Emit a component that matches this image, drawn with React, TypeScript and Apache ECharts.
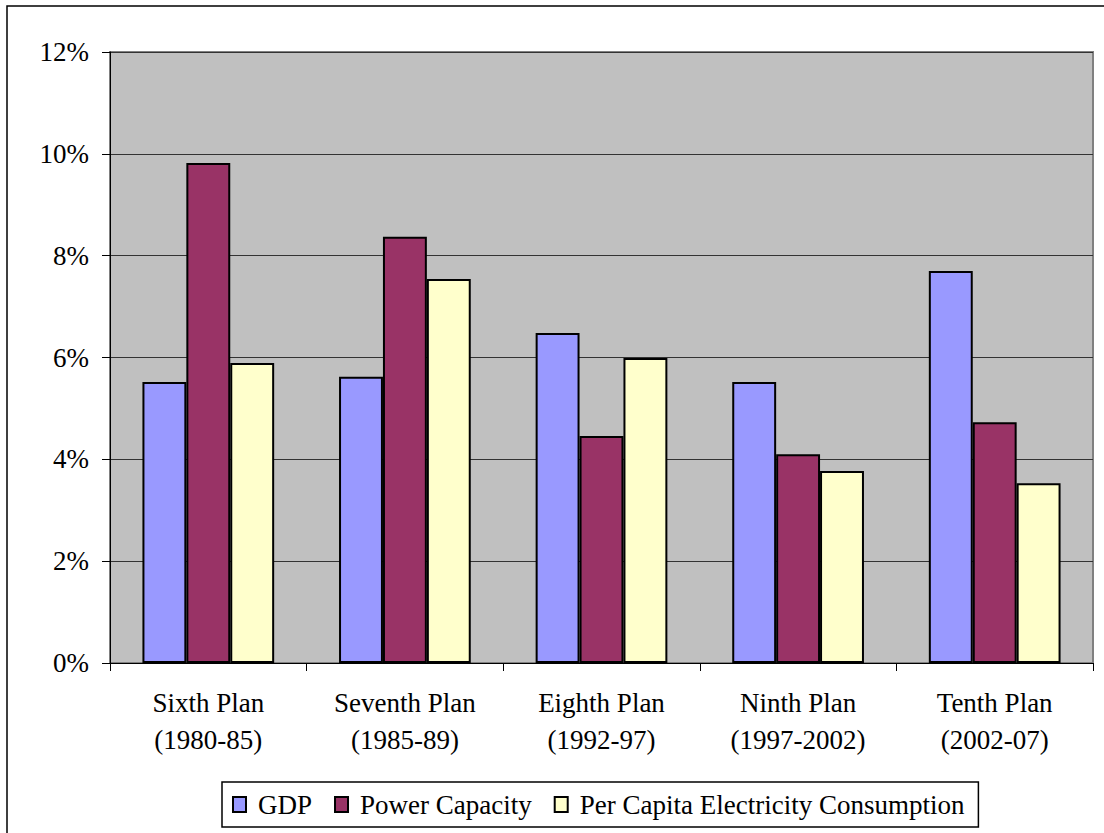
import React, { useEffect, useRef } from "react";
import * as echarts from "echarts";

const categories = [
  "Sixth Plan\n(1980-85)",
  "Seventh Plan\n(1985-89)",
  "Eighth Plan\n(1992-97)",
  "Ninth Plan\n(1997-2002)",
  "Tenth Plan\n(2002-07)",
];
const gdp = [5.52, 5.62, 6.48, 5.52, 7.7];
const powerCapacity = [9.82, 8.37, 4.46, 4.1, 4.73];
const perCapita = [5.89, 7.54, 5.99, 3.77, 3.53];
const seriesNames = ["GDP", "Power Capacity", "Per Capita Electricity Consumption"];
const colors = ["#9999FF", "#993366", "#FFFFCC"];

const FONT = "'Liberation Serif', 'DejaVu Serif', serif";

export default function App() {
  const ref = useRef<HTMLDivElement>(null);
  useEffect(() => {
    if (!ref.current) return;
    const chart = echarts.init(ref.current, null, { renderer: "svg" });
    const data = [gdp, powerCapacity, perCapita];
    chart.setOption({
      animation: false,
      backgroundColor: "#ffffff",
      textStyle: { fontFamily: FONT },
      graphic: [
        {
          type: "rect",
          shape: { x: 7, y: 6, width: 1120, height: 860 },
          style: { fill: "none", stroke: "#000", lineWidth: 1.5 },
          silent: true,
          z: -1,
        },
      ],
      grid: {
        left: 110,
        right: 11,
        top: 52,
        bottom: 170,
        show: true,
        backgroundColor: "#C0C0C0",
        borderColor: "#808080",
        borderWidth: 2,
      },
      legend: {
        left: 222,
        top: 782,
        padding: [9, 14, 9, 10],
        itemGap: 22,
        itemWidth: 13,
        itemHeight: 15,
        borderColor: "#000",
        borderWidth: 1.5,
        icon: "rect",
        textStyle: { fontSize: 27, fontFamily: FONT, color: "#000", padding: [0, 0, 0, 7] },
        data: seriesNames,
      },
      xAxis: {
        type: "category",
        data: categories,
        axisLine: { lineStyle: { color: "#000", width: 1 } },
        axisTick: { show: true, length: 8, lineStyle: { color: "#000" } },
        axisLabel: {
          fontSize: 27,
          fontFamily: FONT,
          color: "#000",
          margin: 21,
          lineHeight: 37,
          interval: 0,
        },
      },
      yAxis: {
        type: "value",
        min: 0,
        max: 12,
        interval: 2,
        axisLine: { show: true, lineStyle: { color: "#000", width: 1 } },
        axisTick: { show: true, length: 8, lineStyle: { color: "#000" } },
        splitLine: { lineStyle: { color: "#333", width: 1 } },
        axisLabel: {
          fontSize: 27,
          fontFamily: FONT,
          color: "#000",
          margin: 21,
          formatter: (v: number) => `${v}%`,
        },
      },
      series: seriesNames.map((name, i) => ({
        name,
        type: "bar",
        data: data[i],
        barGap: "0%",
        barCategoryGap: "33%",
        itemStyle: { color: colors[i], borderColor: "#000", borderWidth: 2 },
      })),
    });
    return () => chart.dispose();
  }, []);
  return (
    <div
      ref={ref}
      style={{ position: "absolute", left: 0, top: 0, width: 1104, height: 833 }}
    />
  );
}
